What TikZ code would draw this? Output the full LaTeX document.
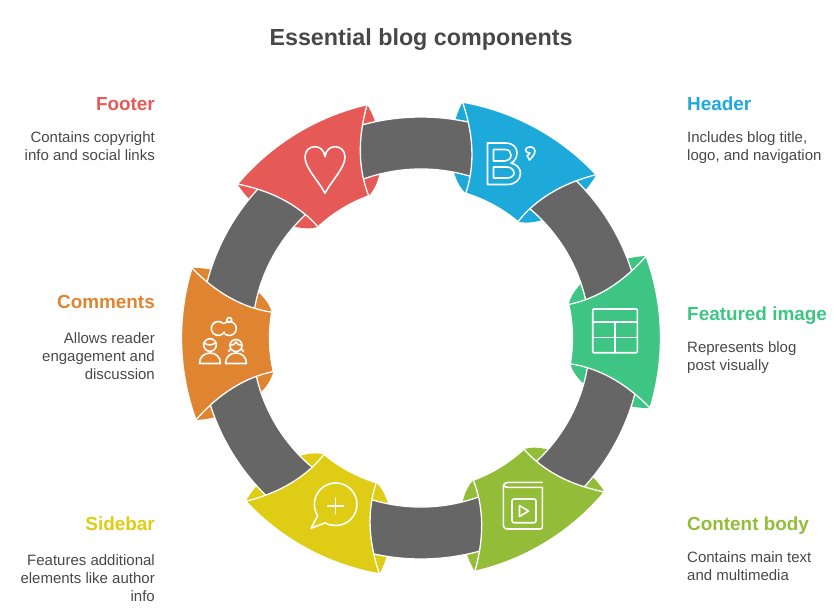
\documentclass[tikz,border=0pt]{standalone}
\usepackage{fontspec}
\setmainfont{Liberation Sans}
\definecolor{cheader}{HTML}{1EA9DB}
\definecolor{cimage}{HTML}{3FC583}
\definecolor{cbody}{HTML}{93BD38}
\definecolor{csidebar}{HTML}{DFCC15}
\definecolor{ccomments}{HTML}{DF8430}
\definecolor{cfooter}{HTML}{E55A56}
\definecolor{cring}{HTML}{666666}
\definecolor{ctext}{HTML}{484848}
\tikzset{
  px/.style={shift={(-421,338)},yscale=-1},
  icon/.style={draw=white,line width=1.6pt,line join=round,line cap=round},
  title node/.style={text=ctext,font=\fontsize{23.3}{28}\selectfont\bfseries},
  head right/.style={anchor=base west,inner sep=0pt,font=\fontsize{18.9}{22}\selectfont\bfseries},
  head left/.style={anchor=base east,inner sep=0pt,font=\fontsize{18.9}{22}\selectfont\bfseries},
  text right/.style={anchor=north west,align=left,text=ctext,inner sep=0pt,font=\fontsize{15}{18}\selectfont},
  text left/.style={anchor=north east,align=right,text=ctext,inner sep=0pt,font=\fontsize{15}{18}\selectfont}
}
\begin{document}
\begin{tikzpicture}[x=1pt,y=1pt]
  \useasboundingbox (-421,-276) rectangle (416,338);
  % slivers behind the ring
  \foreach \ang/\col in {28.5/cheader,88.5/cimage,148.5/cbody,208.5/csidebar,268.5/ccomments,328.5/cfooter}{
    \begin{scope}[rotate=-\ang]
      \fill[\col] (108.5:239.5) .. controls (-76,195) and (-55,155) .. (101.3:151.5)
        arc[start angle=101.3,end angle=78.7,radius=151.5]
        .. controls (55,155) and (76,195) .. (71.5:239.5)
        arc[start angle=71.5,end angle=108.5,radius=239.5] -- cycle;
    \end{scope}
  }
  % ring
  \draw[white,fill=cring,even odd rule,line width=1.3pt] (0,0) circle[radius=221] circle[radius=169];
  % segments
  \foreach \ang/\col in {28.5/cheader,88.5/cimage,148.5/cbody,208.5/csidebar,268.5/ccomments,328.5/cfooter}{
    \begin{scope}[rotate=-\ang]
      \draw[white,fill=\col,line width=1.3pt] (108.5:239.5) .. controls (103.9:209.6) and (101.1:180.7) .. (101.3:151.5)
        arc[start angle=101.3,end angle=78.7,radius=151.5]
        .. controls (78.9:180.7) and (76.1:209.6) .. (71.5:239.5)
        arc[start angle=71.5,end angle=108.5,radius=239.5] -- cycle;
    \end{scope}
  }
  \begin{scope}[px]
    % title
    \node[title node] (title) at (421,40) {Essential blog components};
    % right labels
    \node[head right,text=cheader] (header) at (687,110) {Header};
    \node[text right] (headertext) at (687,131) {Includes blog title,\\logo, and navigation};
    \node[head right,text=cimage] (image) at (687,320) {Featured image};
    \node[text right] (imagetext) at (687,341) {Represents blog\\post visually};
    \node[head right,text=cbody] (body) at (687,530) {Content body};
    \node[text right] (bodytext) at (687,551) {Contains main text\\and multimedia};
    % left labels
    \node[head left,text=cfooter] (footer) at (155,110) {Footer};
    \node[text left] (footertext) at (155,131) {Contains copyright\\info and social links};
    \node[head left,text=ccomments] (comments) at (155,308) {Comments};
    \node[text left] (commentstext) at (155,332) {Allows reader\\engagement and\\discussion};
    \node[head left,text=csidebar] (sidebar) at (155,530) {Sidebar};
    \node[text left] (sidebartext) at (155,554) {Features additional\\elements like author\\info};
    % B icon
    \draw[icon] (487.5,143) -- (505,143) .. controls (514,143) and (517,148) .. (517,153)
      .. controls (517,158) and (514,162) .. (511,163) .. controls (516,164) and (520.5,168) .. (520.5,173)
      .. controls (520.5,180) and (515,184.5) .. (507,184.5) -- (487.5,184.5) -- cycle;
    \draw[icon] (493.5,149.5) -- (505,149.5) .. controls (509,149.5) and (511,152) .. (511,155)
      .. controls (511,159) and (508,161) .. (505,161) -- (493.5,161) -- cycle;
    \draw[icon] (493.5,167) -- (507,167) .. controls (511,167) and (514,170) .. (514,173)
      .. controls (514,176) and (511,178) .. (507,178) -- (493.5,178) -- cycle;
    \draw[icon] (530,147) .. controls (533.5,147) and (535,149) .. (535,151) .. controls (535,154) and (532,157.5) .. (529.5,160)
      -- (527,155.5) .. controls (528.5,155) and (529.5,154) .. (530,153) .. controls (527,153) and (525.5,151.5) .. (525.5,150)
      .. controls (525.5,148) and (527.5,147) .. (530,147) -- cycle;
    % table icon
    \draw[icon,rounded corners=1pt] (592.7,309) rectangle (637.3,352.7);
    \draw[icon] (592.7,321.7) -- (637.3,321.7) (592.7,337.3) -- (637.3,337.3) (615,321.7) -- (615,352.7);
    % book icon
    \draw[icon] (542.3,482.3) -- (508,482.3) .. controls (505,482.3) and (503.3,484) .. (503.3,487) -- (503.3,525)
      .. controls (503.3,527.5) and (505,529) .. (507,529) -- (540.5,529) .. controls (541.5,529) and (542.3,528.2) .. (542.3,527)
      -- (542.3,487.3) -- (508,487.3) .. controls (505,487.3) and (503.3,486) .. (503.3,485);
    \draw[icon,rounded corners=2pt] (512,499) rectangle (536,522.7);
    \draw[icon] (519.5,505.5) -- (528.5,511) -- (519.5,516.5) -- cycle;
    % bubble icon
    \draw[icon] (317.7,515.7) arc[start angle=147.5,end angle=479.4,radius=21.3] -- (311,528.3) -- cycle;
    \draw[icon] (335.7,497.7) -- (335.7,513.7) (327.7,505.7) -- (343.7,505.7);
    % heart icon
    \draw[icon] (325,193.3) .. controls (318,180) and (305,168) .. (305,157)
      .. controls (305,150) and (310,146.7) .. (315,146.7) .. controls (320,146.7) and (324,150) .. (325,156.7)
      .. controls (326,150) and (330,146.7) .. (335,146.7) .. controls (340,146.7) and (345,150) .. (345,157)
      .. controls (345,168) and (332,180) .. (325,193.3) -- cycle;
    % people icon
    \draw[icon] (223.25,323.55) arc[start angle=-45,end angle=-330,radius=7];
    \draw[icon] (224.8,323.1) arc[start angle=-130,end angle=130,radius=7];
    \draw[icon] (229.3,320) circle[radius=2.5];
    \draw[icon] (210,345) circle[radius=6.3];
    \draw[icon] (204,343) .. controls (208,346) and (213,345) .. (216,342.5);
    \draw[icon] (199.5,363.5) .. controls (199.5,357) and (204,353) .. (210,353)
      .. controls (216,353) and (220.5,357) .. (220.5,363.5) -- cycle;
    \draw[icon] (236,345.5) circle[radius=6];
    \draw[icon] (230,345) .. controls (233,346) and (235,344) .. (236,342) .. controls (237,344) and (239,346) .. (242,345);
    \draw[icon] (230.5,349) -- (228.5,351.5) (241.5,349) -- (243.5,351.5);
    \draw[icon] (225.5,363.5) .. controls (225.5,357) and (230,353) .. (236,353)
      .. controls (242,353) and (246.5,357) .. (246.5,363.5) -- cycle;
  \end{scope}
\end{tikzpicture}
\end{document}
